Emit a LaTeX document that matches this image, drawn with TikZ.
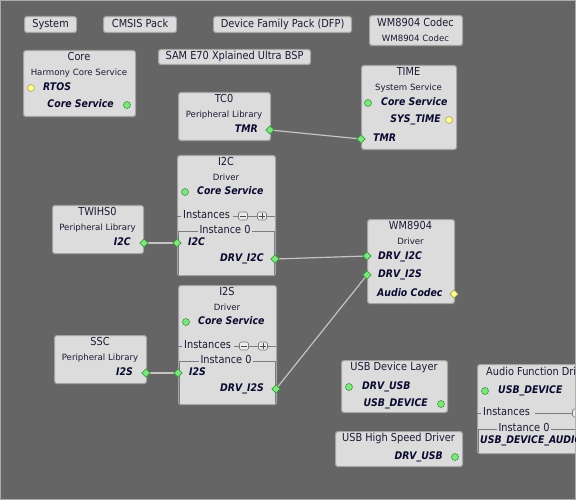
\documentclass[tikz,border=0pt]{standalone}
\usepackage{fontspec}
\setmainfont{DejaVu Sans}
\newfontfamily\narrowfont{DejaVu Sans}[FakeStretch=0.89]
\usetikzlibrary{shapes.geometric}
\definecolor{bgc}{HTML}{656565}
\definecolor{framec}{HTML}{ABABAB}
\definecolor{boxfill}{HTML}{DCDCDC}
\definecolor{boxline}{HTML}{A4A4A4}
\definecolor{txtc}{HTML}{1A1A34}
\definecolor{labc}{HTML}{0A0A30}
\definecolor{connc}{HTML}{C4C4C4}
\definecolor{gfill}{HTML}{7EE67E}
\definecolor{gline}{HTML}{3E9A3E}
\definecolor{yfill}{HTML}{FFFF96}
\definecolor{yline}{HTML}{A8A848}
\definecolor{instc}{HTML}{7C7C7C}
\pgfdeclarelayer{back}
\pgfdeclarelayer{conn}
\pgfsetlayers{back,conn,main}
\tikzset{
  box/.style={draw=boxline, fill=boxfill, rounded corners=2.5pt, line width=1.1pt, inner sep=0pt, anchor=north west},
  txt/.style={inner sep=0pt, text=txtc},
  ttl/.style={txt, anchor=mid, font=\narrowfont\fontsize{11}{12}\selectfont},
  ttll/.style={txt, anchor=mid west, font=\narrowfont\fontsize{11}{12}\selectfont},
  sub/.style={txt, anchor=mid, font=\fontsize{8.6}{10}\selectfont},
  lab/.style={inner sep=0pt, text=labc, font=\narrowfont\fontsize{10.5}{12}\selectfont\bfseries\itshape},
  labl/.style={lab, anchor=mid west},
  labr/.style={lab, anchor=mid east},
  gport/.style={diamond, draw=gline, fill=gfill, minimum size=8.5pt, inner sep=0pt, line width=0.6pt},
  yport/.style={diamond, draw=yline, fill=yfill, minimum size=8.5pt, inner sep=0pt, line width=0.6pt},
  gdot/.style={circle, draw=gline, fill=gfill, minimum size=7pt, inner sep=0pt, line width=0.6pt},
  ydot/.style={circle, draw=yline, fill=yfill, minimum size=7pt, inner sep=0pt, line width=0.6pt},
  conn/.style={draw=connc, line width=1.2pt},
  instl/.style={draw=instc, line width=0.8pt},
  mini/.style={rectangle, rounded corners=1.5pt, draw=instc, fill=boxfill!60!white, minimum width=9pt, minimum height=8pt, inner sep=0pt, line width=0.7pt},
  sym/.style={draw=txtc!80!white, line width=0.8pt},
  instt/.style={txt, anchor=mid, font=\narrowfont\fontsize{11}{12}\selectfont, fill=boxfill, inner xsep=2pt}
}
\begin{document}
\begin{tikzpicture}[x=1pt,y=-1pt]
\useasboundingbox (0,0) rectangle (576,500);
\begin{pgfonlayer}{back}
\fill[bgc] (0,0) rectangle (576,500);
\draw[framec, line width=1pt] (0.5,0.5) rectangle (575.5,499.5);
\end{pgfonlayer}

% top buttons
\node[box, minimum width=52pt, minimum height=16pt] (sys) at (24,16) {};
\node[ttl] (sys-t) at (sys.center) {System};
\node[box, minimum width=73pt, minimum height=16pt] (cmsis) at (103,16) {};
\node[ttl] (cmsis-t) at (cmsis.center) {CMSIS Pack};
\node[box, minimum width=138pt, minimum height=16pt] (dfp) at (213,16) {};
\node[ttl] (dfp-t) at (dfp.center) {Device Family Pack (DFP)};
\node[box, minimum width=93pt, minimum height=30pt] (wmc) at (369,15) {};
\node[ttl] (wmc-t) at (415.5,24) {WM8904 Codec};
\node[sub] (wmc-s) at (415.5,38.5) {WM8904 Codec};
\node[box, minimum width=152pt, minimum height=15pt] (bsp) at (158,49) {};
\node[ttl] (bsp-t) at (bsp.center) {SAM E70 Xplained Ultra BSP};

% Core
\node[box, minimum width=112pt, minimum height=66pt] (core) at (23,50) {};
\node[ttl] (core-t) at (79,58) {Core};
\node[sub] (core-s) at (79,73) {Harmony Core Service};
\node[ydot] (core-rtos) at (31,88) {};
\node[labl] (core-rtos-l) at (43,88) {RTOS};
\node[labr] (core-cs-l) at (114,105) {Core Service};
\node[gdot] (core-cs) at (127,105) {};

% TC0
\node[box, minimum width=92pt, minimum height=48pt] (tc0) at (178,92) {};
\node[ttl] (tc0-t) at (224,100) {TC0};
\node[sub] (tc0-s) at (224,115) {Peripheral Library};
\node[labr] (tc0-tmr-l) at (258,130) {TMR};
\node[gport] (tc0-tmr) at (270,130) {};

% TIME
\node[box, minimum width=95pt, minimum height=84pt] (time) at (361,65) {};
\node[ttl] (time-t) at (408.5,73) {TIME};
\node[sub] (time-s) at (408.5,88) {System Service};
\node[gdot] (time-cs) at (368,103) {};
\node[labl] (time-cs-l) at (381,103) {Core Service};
\node[labr] (time-st-l) at (441,120) {SYS\_TIME};
\node[ydot] (time-st) at (449,120) {};
\node[gport] (time-tmr) at (361,139) {};
\node[labl] (time-tmr-l) at (373,139) {TMR};

% I2C driver
\node[box, minimum width=98pt, minimum height=120pt] (i2c) at (177,155) {};
\node[ttl] (i2c-t) at (226,163) {I2C};
\node[sub] (i2c-s) at (226,178) {Driver};
\node[gdot] (i2c-cs) at (185,192) {};
\node[labl] (i2c-cs-l) at (197,192) {Core Service};
\draw[instl] (177,216) -- (181,216);
\node[ttll] (i2c-inst) at (183,216) {Instances};
\draw[instl] (233,216) -- (238.5,216);
\node[mini] (i2c-minus) at (243,216) {};
\draw[sym] ([xshift=2pt]i2c-minus.west) -- ([xshift=-2pt]i2c-minus.east);
\draw[instl] (247.5,216) -- (257.5,216);
\node[mini] (i2c-plus) at (262,216) {};
\draw[sym] ([xshift=2pt]i2c-plus.west) -- ([xshift=-2pt]i2c-plus.east);
\draw[sym] ([yshift=-1.6pt]i2c-plus.north) -- ([yshift=1.6pt]i2c-plus.south);
\draw[instl] (266.5,216) -- (275,216);
\draw[instl] (178,274) -- (178,231) -- (274.5,231) -- (274.5,274);
\node[instt] (i2c-i0) at (225,231) {Instance 0};
\node[labl] (i2c-i2c-l) at (188,243) {I2C};
\node[gport] (i2c-i2c) at (177,243) {};
\node[labr] (i2c-drv-l) at (264,259) {DRV\_I2C};
\node[gport] (i2c-drv) at (275,259) {};

% TWIHS0
\node[box, minimum width=91pt, minimum height=48pt] (twi) at (52,205) {};
\node[ttl] (twi-t) at (97.5,213) {TWIHS0};
\node[sub] (twi-s) at (97.5,228) {Peripheral Library};
\node[labr] (twi-i2c-l) at (131,243) {I2C};
\node[gport] (twi-i2c) at (144,243) {};

% WM8904 driver
\node[box, minimum width=87pt, minimum height=84pt] (wm) at (367,219) {};
\node[ttl] (wm-t) at (410.5,227) {WM8904};
\node[sub] (wm-s) at (410.5,242) {Driver};
\node[gport] (wm-i2c) at (367,256) {};
\node[labl] (wm-i2c-l) at (378,257) {DRV\_I2C};
\node[gport] (wm-i2s) at (367,275) {};
\node[labl] (wm-i2s-l) at (378,275) {DRV\_I2S};
\node[labl] (wm-ac-l) at (377,294) {Audio Codec};
\node[yport] (wm-ac) at (454,294) {};

% I2S driver
\node[box, minimum width=98pt, minimum height=119pt] (i2s) at (178,285) {};
\node[ttl] (i2s-t) at (227,293) {I2S};
\node[sub] (i2s-s) at (227,308) {Driver};
\node[gdot] (i2s-cs) at (186,322) {};
\node[labl] (i2s-cs-l) at (198,322) {Core Service};
\draw[instl] (178,346) -- (182,346);
\node[ttll] (i2s-inst) at (184,346) {Instances};
\draw[instl] (234,346) -- (239.5,346);
\node[mini] (i2s-minus) at (244,346) {};
\draw[sym] ([xshift=2pt]i2s-minus.west) -- ([xshift=-2pt]i2s-minus.east);
\draw[instl] (248.5,346) -- (258.5,346);
\node[mini] (i2s-plus) at (263,346) {};
\draw[sym] ([xshift=2pt]i2s-plus.west) -- ([xshift=-2pt]i2s-plus.east);
\draw[sym] ([yshift=-1.6pt]i2s-plus.north) -- ([yshift=1.6pt]i2s-plus.south);
\draw[instl] (267.5,346) -- (276,346);
\draw[instl] (179,403) -- (179,361) -- (275.5,361) -- (275.5,403);
\node[instt] (i2s-i0) at (226,361) {Instance 0};
\node[labl] (i2s-i2s-l) at (189,373) {I2S};
\node[gport] (i2s-i2s) at (178,373) {};
\node[labr] (i2s-drv-l) at (264,389) {DRV\_I2S};
\node[gport] (i2s-drv) at (276,389) {};

% SSC
\node[box, minimum width=92pt, minimum height=48pt] (ssc) at (54,335) {};
\node[ttl] (ssc-t) at (100,343) {SSC};
\node[sub] (ssc-s) at (100,358) {Peripheral Library};
\node[labr] (ssc-i2s-l) at (133,373) {I2S};
\node[gport] (ssc-i2s) at (146,373) {};

% USB Device Layer
\node[box, minimum width=106pt, minimum height=52pt] (usbl) at (341,360) {};
\node[ttl] (usbl-t) at (394,368) {USB Device Layer};
\node[gdot] (usbl-drv) at (349,387) {};
\node[labl] (usbl-drv-l) at (362,387) {DRV\_USB};
\node[labr] (usbl-dev-l) at (428,404) {USB\_DEVICE};
\node[gdot] (usbl-dev) at (441,404) {};

% USB High Speed Driver
\node[box, minimum width=127pt, minimum height=35pt] (usbhs) at (335,431) {};
\node[ttl] (usbhs-t) at (398.5,439) {USB High Speed Driver};
\node[labr] (usbhs-drv-l) at (443,457) {DRV\_USB};
\node[gdot] (usbhs-drv) at (455,457) {};

% Audio Function Driver (clipped by frame, as in the reference)
\begin{scope}
\clip (1,1) rectangle (575,499);
\node[box, minimum width=120pt, minimum height=89pt] (afd) at (477,364) {};
\node[ttll] (afd-t) at (486,372.5) {Audio Function Driver};
\node[gdot] (afd-dev) at (485,391) {};
\node[labl] (afd-dev-l) at (498,391) {USB\_DEVICE};
\draw[instl] (477,413) -- (481,413);
\node[ttll] (afd-inst) at (483,413) {Instances};
\draw[instl] (535,413) -- (572,413);
\node[mini] (afd-minus) at (577,413) {};
\draw[instl] (478,452) -- (478,429) -- (600,429);
\node[instt] (afd-i0) at (524,429) {Instance 0};
\node[labl] (afd-au-l) at (480,441) {USB\_DEVICE\_AUDIO\_V1\_0};
\end{scope}

% connectors
\begin{pgfonlayer}{conn}
\draw[conn] (tc0-tmr.center) -- (time-tmr.center);
\draw[conn] (twi-i2c.center) -- (i2c-i2c.center);
\draw[conn] (i2c-drv.center) -- (wm-i2c.center);
\draw[conn] (ssc-i2s.center) -- (i2s-i2s.center);
\draw[conn] (i2s-drv.center) -- (wm-i2s.center);
\end{pgfonlayer}
\end{tikzpicture}
\end{document}
